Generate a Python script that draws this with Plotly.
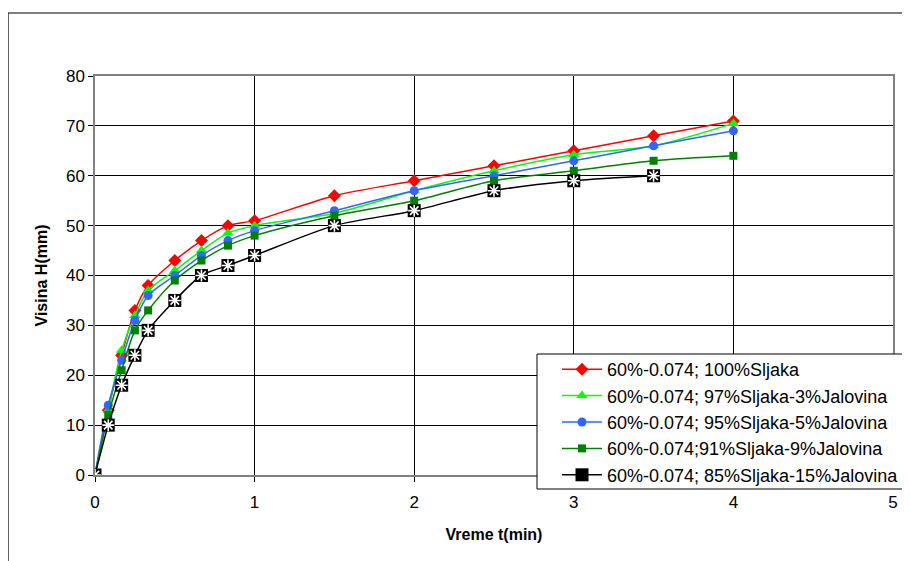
import plotly.graph_objects as go

t_min = [0, 0.083, 0.167, 0.25, 0.333, 0.5, 0.667, 0.833, 1, 1.5, 2, 2.5, 3, 3.5, 4]
t_min_15 = [0, 0.083, 0.167, 0.25, 0.333, 0.5, 0.667, 0.833, 1, 1.5, 2, 2.5, 3, 3.5]

h_100 = [0, 13, 24, 33, 38, 43, 47, 50, 51, 56, 59, 62, 65, 68, 71]
h_97 = [0, 13, 25, 32, 37, 41, 45, 48.5, 50, 52.5, 57, 61, 64.2, 66, 70.5]
h_95 = [0, 14, 23, 31, 36, 40, 44, 47, 49, 53, 57, 60, 63, 66, 69]
h_91 = [0, 12, 21, 29, 33, 39, 43, 46, 48, 52, 55, 59, 61, 63, 64]
h_85 = [0, 10, 18, 24, 29, 35, 40, 42, 44, 50, 53, 57, 59, 60]

names = [
    "60%-0.074; 100%Sljaka",
    "60%-0.074; 97%Sljaka-3%Jalovina",
    "60%-0.074; 95%Sljaka-5%Jalovina",
    "60%-0.074;91%Sljaka-9%Jalovina",
    "60%-0.074; 85%Sljaka-15%Jalovina",
]

x_ticks = [0, 1, 2, 3, 4, 5]
y_ticks = [0, 10, 20, 30, 40, 50, 60, 70, 80]

FONT = "Liberation Sans, Arial, sans-serif"

# page pixel geometry of the plot area (reference)
PL, PR, PT, PB = 95, 893, 76, 475
PW, PH = PR - PL, PB - PT


def px(x):
    return (x - PL) / PW


def py(y):
    return (PB - y) / PH


fig = go.Figure()

series = [
    (t_min, h_100, names[0], "#FF0000", "diamond", 10),
    (t_min, h_97, names[1], "#00FF00", "triangle-up", 10),
    (t_min, h_95, names[2], "#3366FF", "circle", 9),
    (t_min, h_91, names[3], "#008000", "square", 8),
]
for i, (xs, ys, nm, col, sym, sz) in enumerate(series):
    fig.add_trace(go.Scatter(
        x=xs, y=ys, name=nm, mode="lines+markers",
        line=dict(color=col, width=1.5, shape="spline", smoothing=0.8),
        marker=dict(symbol=sym, size=sz, color=col, line=dict(width=0)),
    ))

fig.add_trace(go.Scatter(
    x=t_min_15, y=h_85, name=names[4], mode="lines+markers", legendgroup="g85",
    line=dict(color="#000000", width=1.5, shape="spline", smoothing=0.8),
    marker=dict(symbol="square", size=13, color="#000000", line=dict(width=0)),
))
fig.add_trace(go.Scatter(
    x=t_min_15, y=h_85, name=names[4], mode="markers", legendgroup="g85", showlegend=False,
    marker=dict(symbol="asterisk-open", size=10, color="#FFFFFF", line=dict(width=1.6, color="#FFFFFF")),
))

# outer chart border
fig.add_shape(type="rect", xref="paper", yref="paper",
              x0=px(8), x1=px(925), y0=py(580), y1=py(13),
              line=dict(color="#000000", width=1.2), fillcolor="rgba(0,0,0,0)", layer="below")
# legend box
fig.add_shape(type="rect", xref="paper", yref="paper",
              x0=px(537), x1=px(925), y0=py(489), y1=py(354),
              line=dict(color="#000000", width=1), fillcolor="#FFFFFF", layer="above")

# the page has an 8px body margin, so compensate
fig.update_layout(
    width=910, height=561,
    margin=dict(l=PL - 8, r=910 - PR + 8, t=PT - 8, b=561 - PB + 8, autoexpand=False),
    paper_bgcolor="#FFFFFF", plot_bgcolor="#FFFFFF",
    font=dict(family=FONT, color="#000000", size=17),
    xaxis=dict(
        range=[0, 5], tickvals=x_ticks, ticktext=[str(v) for v in x_ticks],
        showgrid=True, gridcolor="#000000", gridwidth=1,
        showline=True, linecolor="#808080", linewidth=1.5, mirror=True,
        ticks="outside", ticklen=5, tickcolor="#000000", zeroline=False,
        ticklabelstandoff=6,
        title=dict(text="<b>Vreme t(min)</b>", font=dict(size=16, family=FONT), standoff=18),
        tickfont=dict(size=17, family=FONT),
    ),
    yaxis=dict(
        range=[0, 80], tickvals=y_ticks, ticktext=[str(v) for v in y_ticks],
        showgrid=True, gridcolor="#000000", gridwidth=1,
        showline=True, linecolor="#808080", linewidth=1.5, mirror=True,
        ticks="outside", ticklen=5, tickcolor="#000000", zeroline=False,
        title=dict(text="<b>Visina H(mm)</b>", font=dict(size=16, family=FONT), standoff=14),
        tickfont=dict(size=17, family=FONT),
    ),
    legend=dict(
        x=px(557), y=py(351), xanchor="left", yanchor="top",
        bgcolor="rgba(0,0,0,0)", borderwidth=0,
        font=dict(size=18, family=FONT), tracegroupgap=0, itemwidth=40,
    ),
    showlegend=True,
)

fig.write_html("out.html")
